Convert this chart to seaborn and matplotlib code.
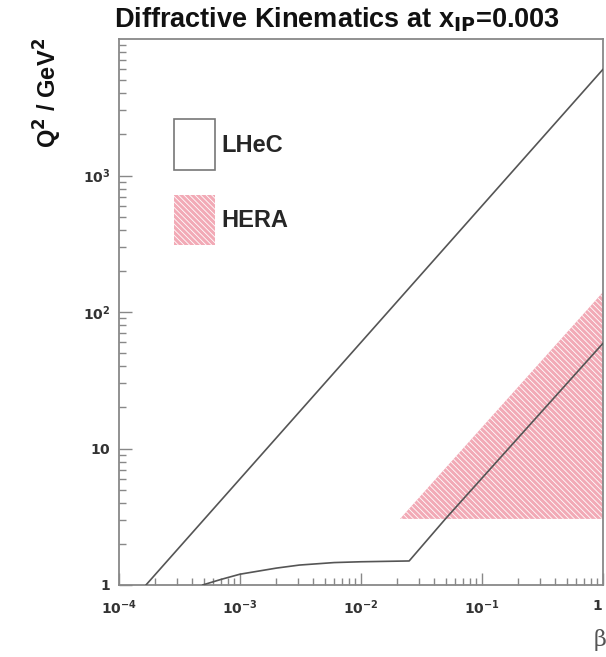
import matplotlib
matplotlib.use("Agg")
import matplotlib.pyplot as plt
import seaborn as sns
import numpy as np
import pandas as pd
from matplotlib.patches import Patch

sns.set_theme(style="white")
plt.rcParams['font.family'] = ['Liberation Sans', 'DejaVu Sans']
plt.rcParams['hatch.linewidth'] = 0.6

# LHeC upper boundary (y = 1)
lhec_up_beta = [1.67e-4, 1.0]
lhec_up_q2 = [1.0, 6000.0]
# LHeC lower boundary
lhec_lo_beta = [4.9e-4, 7e-4, 1.0e-3, 2.0e-3, 3.1e-3, 6e-3, 1.0e-2, 2.5e-2, 5e-2, 1.0]
lhec_lo_q2 = [1.0, 1.1, 1.2, 1.33, 1.4, 1.46, 1.48, 1.5, 3.06, 59.0]
# HERA region (triangle)
hera_beta = [2.1e-2, 1.0]
hera_q2_low = [3.05, 3.05]
hera_q2_high = [3.05, 140.0]

xticks = [1e-4, 1e-3, 1e-2, 1e-1, 1]
xticklabels = [r'$\mathbf{10^{-4}}$', r'$\mathbf{10^{-3}}$', r'$\mathbf{10^{-2}}$', r'$\mathbf{10^{-1}}$', r'$\mathbf{1}$']
yticks = [1, 10, 100, 1000]
yticklabels = [r'$\mathbf{1}$', r'$\mathbf{10}$', r'$\mathbf{10^{2}}$', r'$\mathbf{10^{3}}$']

fig = plt.figure(figsize=(6.06, 6.57), dpi=100)
ax = fig.add_axes([119/606, 1-585/657, (603-119)/606, (585-39)/657])

line_col = '#555555'
pink = '#f2aab6'
hatch = '\\' * 6

ax.fill_between(hera_beta, hera_q2_low, hera_q2_high, facecolor=pink,
                edgecolor='white', hatch=hatch, linewidth=0, zorder=1)

df_up = pd.DataFrame({'beta': lhec_up_beta, 'q2': lhec_up_q2})
df_lo = pd.DataFrame({'beta': lhec_lo_beta, 'q2': lhec_lo_q2})
sns.lineplot(data=df_up, x='beta', y='q2', ax=ax, color=line_col, lw=1.2, sort=False, zorder=3)
sns.lineplot(data=df_lo, x='beta', y='q2', ax=ax, color=line_col, lw=1.2, sort=False, zorder=3)

ax.set_xscale('log')
ax.set_yscale('log')
ax.set_xlim(1e-4, 1)
ax.set_ylim(1, 1e4)
ax.set_xticks(xticks)
ax.set_xticklabels(xticklabels)
ax.set_yticks(yticks)
ax.set_yticklabels(yticklabels)
ax.tick_params(axis='both', which='major', direction='in', length=9, width=1,
               color='#888888', labelsize=10, labelcolor='#333333',
               bottom=True, left=True, top=False, right=False)
ax.tick_params(axis='both', which='minor', direction='in', length=5, width=1,
               color='#888888', bottom=True, left=True, top=False, right=False)
ax.tick_params(axis='x', pad=10)
ax.tick_params(axis='y', pad=6)
ax.get_xticklabels()[-1].set_horizontalalignment('right')
ax.set_xlabel('')
ax.set_ylabel('')
for s in ax.spines.values():
    s.set_color('#888888')
    s.set_linewidth(1.3)

handles = [Patch(facecolor='white', edgecolor='#777777', linewidth=1.2, label='LHeC'),
           Patch(facecolor=pink, edgecolor='white', hatch=hatch, linewidth=0, label='HERA')]
ax.legend(handles=handles, loc='upper left', bbox_to_anchor=(0.095, 0.87),
          frameon=False, handlelength=1.7, handleheight=2.9, labelspacing=1.05,
          handletextpad=0.3, borderaxespad=0, prop={'weight': 'bold', 'size': 17})

fig.text(114/606, 1-20/657, r'Diffractive Kinematics at x$_{\mathbf{IP}}$=0.003',
         fontsize=19.5, fontweight='bold', ha='left', va='center', color='#111111',
         math_fontfamily='dejavusans')
fig.text(48/606, 1-38/657, r'Q$^{\mathbf{2}}$ / GeV$^{\mathbf{2}}$', rotation=90,
         fontsize=17, fontweight='bold', ha='center', va='top', color='#111111')
fig.text(600/606, 1-640/657, 'β', fontsize=16, ha='center', va='center',
         color='#555555', family=['DejaVu Serif'])

fig.savefig('out.png', dpi=100)
